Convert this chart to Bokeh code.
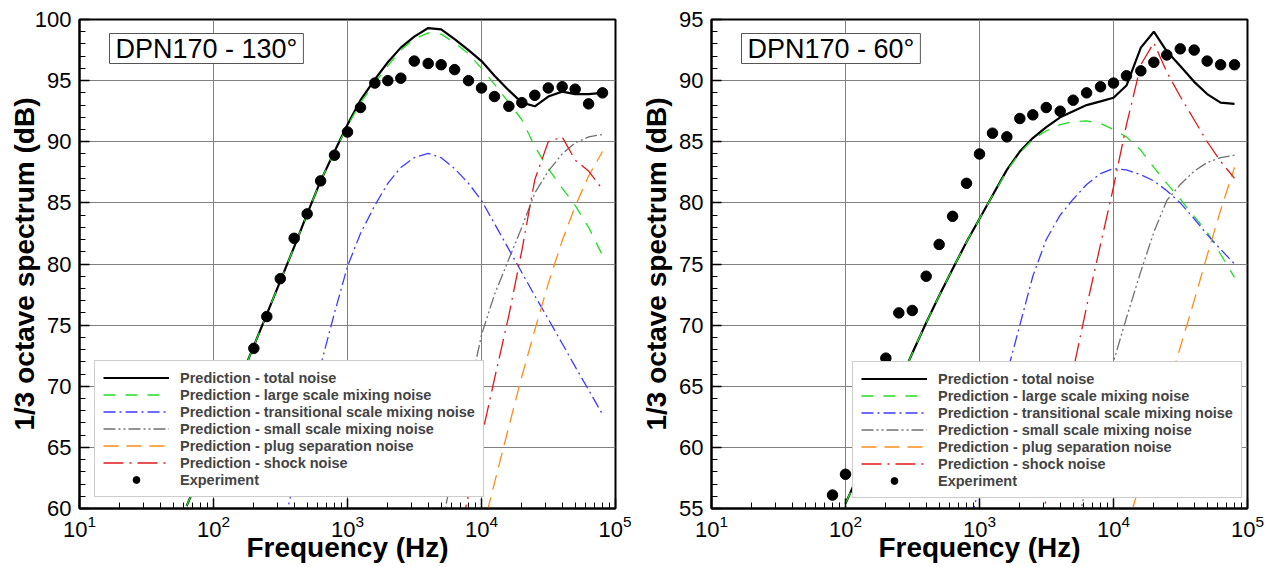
from bokeh.plotting import figure
from bokeh.layouts import row
from bokeh.models import FixedTicker, Range1d, Legend, LegendItem, Label
from bokeh.embed import file_html
from bokeh.resources import INLINE

# ---------------- data: DPN170 - 130 deg ----------------
f130_total = [63, 80, 100, 125, 160, 200, 250, 315, 400, 500, 630, 800, 1000, 1250, 1600, 2000, 2500, 3150,
              4000, 5000, 6300, 8000, 10000, 12500, 16000, 20000, 25000, 31500, 40000, 50000, 63000, 80000]
l130_total = [60.2, 62.9, 65.4, 68.0, 70.7, 73.3, 75.9, 78.6, 81.4, 84.1, 86.8, 89.2, 91.4, 93.4, 95.1, 96.5,
              97.7, 98.6, 99.3, 99.2, 98.4, 97.5, 96.6, 95.4, 94.2, 93.2, 92.9, 93.7, 94.1, 93.9, 93.9, 94.0]
l130_large = [60.2, 62.9, 65.4, 68.0, 70.7, 73.3, 75.9, 78.6, 81.4, 84.1, 86.8, 89.2, 91.3, 93.2, 94.8, 96.2,
              97.5, 98.4, 98.9, 98.8, 98.1, 97.2, 96.0, 94.7, 93.2, 91.8, 89.6, 87.8, 86.2, 84.8, 83.0, 80.7]
f130_trans = [315, 400, 500, 630, 800, 1000, 1250, 1600, 2000, 2500, 3150, 4000, 5000, 6300, 8000, 10000,
              12500, 16000, 20000, 25000, 31500, 40000, 50000, 63000, 80000]
l130_trans = [57.3, 62.3, 66.9, 71.7, 76.0, 79.8, 82.5, 84.8, 86.6, 87.9, 88.7, 89.05, 88.7, 87.8, 86.6, 85.2,
              83.3, 81.2, 79.3, 77.4, 75.5, 73.5, 71.6, 69.7, 67.7]
f130_small = [5000, 6300, 8000, 10000, 12500, 16000, 20000, 25000, 31500, 40000, 50000, 63000, 80000]
l130_small = [58.4, 63.7, 69.2, 74.2, 77.5, 80.4, 83.0, 85.8, 87.6, 89.0, 89.9, 90.4, 90.6]
f130_plug = [10000, 12500, 16000, 20000, 25000, 31500, 40000, 50000, 63000, 80000]
l130_plug = [57.9, 62.1, 66.7, 70.8, 74.6, 78.4, 81.9, 84.7, 87.2, 89.2]
f130_shock = [6300, 8000, 10000, 12500, 16000, 20000, 25000, 31500, 40000, 50000, 63000, 80000]
l130_shock = [56.0, 61.1, 65.8, 70.6, 75.8, 81.1, 86.9, 90.0, 90.4, 88.5, 87.6, 86.1]
f130_exp = [200, 250, 315, 400, 500, 630, 800, 1000, 1250, 1600, 2000, 2500, 3150, 4000, 5000, 6300, 8000,
            10000, 12500, 16000, 20000, 25000, 31500, 40000, 50000, 63000, 80000]
l130_exp = [73.1, 75.7, 78.8, 82.1, 84.1, 86.8, 88.9, 90.8, 92.8, 94.8, 95.0, 95.2, 96.6, 96.4, 96.3, 95.9,
            95.0, 94.4, 93.7, 92.9, 93.2, 93.8, 94.4, 94.5, 94.3, 93.1, 94.0]

# ---------------- data: DPN170 - 60 deg ----------------
f60_total = [100, 125, 160, 200, 250, 315, 400, 500, 630, 800, 1000, 1250, 1600, 2000, 2500, 3150, 4000,
             5000, 6300, 8000, 10000, 12500, 16000, 20000, 25000, 31500, 40000, 50000, 63000, 80000]
l60_total = [55.4, 57.8, 60.4, 62.8, 65.2, 67.7, 70.2, 72.4, 74.6, 76.8, 78.7, 80.6, 82.7, 84.2, 85.3, 86.2,
             87.0, 87.5, 88.0, 88.3, 88.6, 89.6, 92.7, 94.0, 92.4, 91.2, 89.9, 88.9, 88.2, 88.1]
l60_large = [55.4, 57.8, 60.4, 62.8, 65.2, 67.7, 70.2, 72.4, 74.6, 76.8, 78.7, 80.6, 82.6, 84.1, 85.2, 85.9,
             86.4, 86.65, 86.7, 86.5, 86.0, 85.4, 84.3, 82.9, 81.6, 80.3, 78.9, 77.6, 75.8, 73.9]
f60_trans = [800, 1000, 1250, 1600, 2000, 2500, 3150, 4000, 5000, 6300, 8000, 10000, 12500, 16000, 20000,
             25000, 31500, 40000, 50000, 63000, 80000]
l60_trans = [52.5, 56.9, 61.3, 66.0, 70.0, 74.0, 77.0, 79.0, 80.3, 81.5, 82.4, 82.8, 82.7, 82.3, 81.8, 81.0,
             80.0, 78.7, 77.4, 76.2, 75.0]
f60_small = [5000, 6300, 8000, 10000, 12500, 16000, 20000, 25000, 31500, 40000, 50000, 63000, 80000]
l60_small = [52.0, 57.0, 62.4, 67.0, 70.6, 74.4, 77.6, 80.2, 81.5, 82.6, 83.3, 83.7, 83.9]
f60_plug = [12500, 16000, 20000, 25000, 31500, 40000, 50000, 63000, 80000]
l60_plug = [53.3, 57.3, 60.9, 64.5, 68.2, 72.0, 75.7, 79.4, 82.9]
f60_shock = [2500, 3150, 4000, 5000, 6300, 8000, 10000, 12500, 16000, 20000, 25000, 31500, 40000, 50000,
             63000, 80000]
l60_shock = [50.6, 55.8, 61.2, 66.3, 71.5, 76.6, 81.3, 86.4, 91.3, 93.1, 90.7, 88.7, 86.8, 85.0, 83.4, 82.0]
f60_exp = [80, 100, 200, 250, 315, 400, 500, 630, 800, 1000, 1250, 1600, 2000, 2500, 3150, 4000, 5000, 6300,
           8000, 10000, 12500, 16000, 20000, 25000, 31500, 40000, 50000, 63000, 80000]
l60_exp = [56.1, 57.8, 67.3, 71.0, 71.2, 74.0, 76.6, 78.9, 81.6, 84.0, 85.7, 85.4, 86.9, 87.2, 87.8, 87.5,
           88.4, 89.0, 89.5, 89.8, 90.4, 90.8, 91.5, 92.1, 92.6, 92.5, 91.6, 91.3, 91.3]

legend_labels = ["Prediction - total noise",
                 "Prediction - large scale mixing noise",
                 "Prediction - transitional scale mixing noise",
                 "Prediction - small scale mixing noise",
                 "Prediction - plug separation noise",
                 "Prediction - shock noise",
                 "Experiment"]
titles = ["DPN170 - 130\u00b0", "DPN170 - 60\u00b0"]
x_major = [10, 100, 1000, 10000, 100000]
x_minor = [m * d for d in [10, 100, 1000, 10000] for m in range(2, 10)]

FONT = "Liberation Sans"


def make_panel(series, yr, title, border_left, border_right, legend_loc, ylabel_standoff):
    p = figure(x_axis_type="log", x_range=Range1d(10, 1e5), y_range=Range1d(*yr),
               frame_width=536, frame_height=489, output_backend="svg", toolbar_location=None,
               min_border_left=border_left, min_border_right=border_right,
               min_border_top=19, min_border_bottom=40)
    p.background_fill_color = "white"
    p.border_fill_color = "white"
    p.outline_line_color = "black"
    p.outline_line_width = 2
    p.grid.grid_line_color = "#808080"
    p.grid.grid_line_width = 1
    p.xaxis.ticker = FixedTicker(ticks=x_major, minor_ticks=x_minor)
    p.yaxis.ticker = FixedTicker(ticks=list(range(yr[0], yr[1] + 1, 5)),
                                 minor_ticks=list(range(yr[0], yr[1] + 1)))
    for ax in (p.xaxis[0], p.yaxis[0]):
        ax.axis_line_width = 2
        ax.major_tick_in = 10
        ax.major_tick_out = 0
        ax.minor_tick_in = 6
        ax.minor_tick_out = 0
        ax.major_tick_line_width = 1.5
        ax.major_label_text_font = FONT
        ax.major_label_text_font_size = "22px"
        ax.major_label_text_color = "black"
        ax.axis_label_text_font = FONT
        ax.axis_label_text_font_style = "bold"
        ax.axis_label_text_font_size = "28px"
        ax.axis_label_text_color = "black"
    p.xaxis.axis_label = "Frequency (Hz)"
    p.yaxis.axis_label = "1/3 octave spectrum (dB)"
    p.xaxis.axis_label_standoff = -8
    p.yaxis.axis_label_standoff = ylabel_standoff
    p.xaxis.major_label_standoff = 6
    p.yaxis.major_label_standoff = 8

    (ft, t, lg, ftr, tr, fs, sm, fp, pl, fsh, sh, fe, ex) = series
    r_total = p.line(ft, t, line_color="black", line_width=2.2)
    r_large = p.line(ft, lg, line_color="#22dd22", line_width=1.3, line_dash="12 10")
    r_trans = p.line(ftr, tr, line_color="#3b3bff", line_width=1.3, line_dash="12 4 2 4")
    r_small = p.line(fs, sm, line_color="#707070", line_width=1.3, line_dash="12 3 2 3 2 3")
    r_plug = p.line(fp, pl, line_color="#ff8c1a", line_width=1.3, line_dash="15 8")
    r_shock = p.line(fsh, sh, line_color="#e01818", line_width=1.3, line_dash="20 6 2 6")
    r_exp = p.scatter(fe, ex, size=10.5, marker="circle", fill_color="black", line_color="black")

    renderers = [r_total, r_large, r_trans, r_small, r_plug, r_shock, r_exp]
    legend = Legend(items=[LegendItem(label=lab, renderers=[r]) for lab, r in zip(legend_labels, renderers)],
                    location=legend_loc)
    legend.label_text_font = FONT
    legend.label_text_font_style = "bold"
    legend.label_text_font_size = "14.5px"
    legend.label_height = 17
    legend.glyph_height = 17
    legend.glyph_width = 66
    legend.label_standoff = 11
    legend.spacing = 0
    legend.padding = 8
    legend.margin = 0
    legend.border_line_color = "#999999"
    legend.border_line_width = 1
    legend.background_fill_color = "white"
    legend.background_fill_alpha = 1.0
    p.add_layout(legend)

    lbl = Label(x=30, y=445, x_units="screen", y_units="screen", text=title,
                text_font=FONT, text_font_size="27px", text_color="black",
                border_line_color="#555555", border_line_width=1, background_fill_color="white",
                padding=dict(x=6, y=0))
    p.add_layout(lbl)
    return p


p1 = make_panel((f130_total, l130_total, l130_large, f130_trans, l130_trans, f130_small, l130_small,
                 f130_plug, l130_plug, f130_shock, l130_shock, f130_exp, l130_exp),
                (60, 100), titles[0], 79, 16, (15, 11), -8)
p2 = make_panel((f60_total, l60_total, l60_large, f60_trans, l60_trans, f60_small, l60_small,
                 f60_plug, l60_plug, f60_shock, l60_shock, f60_exp, l60_exp),
                (55, 95), titles[1], 80, 30, (141, 10), 4)

layout = row(p1, p2, spacing=0)
open("out.html", "w").write(file_html(layout, INLINE))
